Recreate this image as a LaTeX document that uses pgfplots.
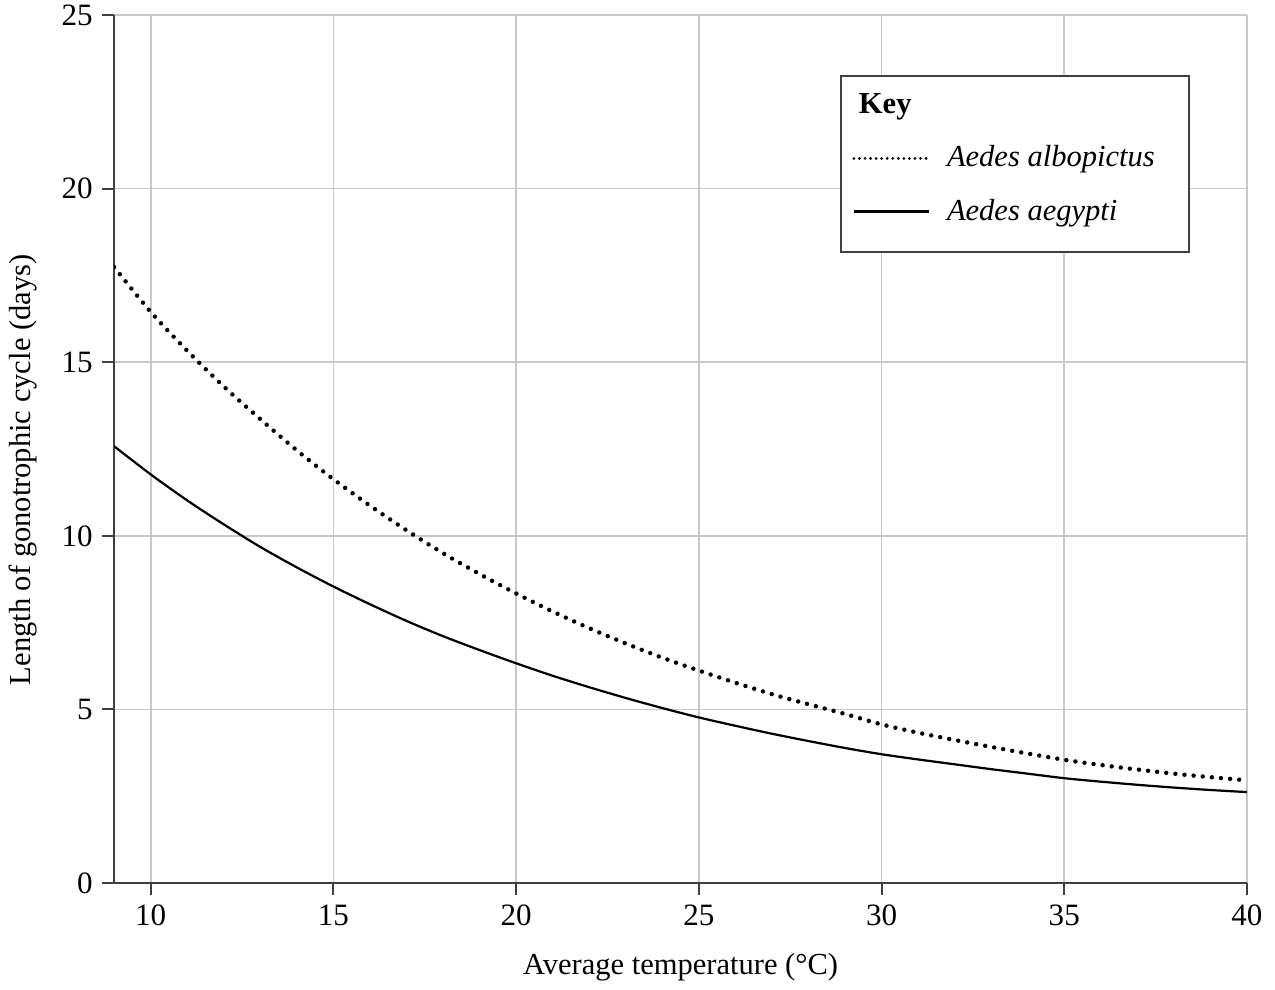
\documentclass[border=0pt]{standalone}
\usepackage{fontspec}
\setmainfont{Liberation Serif}
\usepackage{pgfplots}
\pgfplotsset{compat=1.18}
\definecolor{gridgray}{HTML}{C8C8C8}
\definecolor{axisgray}{HTML}{404040}
\pgfplotsset{deeplegend/.style={legend image code/.code={\draw[##1] (0pt,0pt) -- (27pt,0pt); \path[draw=none, fill=none] (0pt,-10pt) -- (0pt,0pt);}}}
\begin{document}
\begin{tikzpicture}
\begin{axis}[
  name=ax,
  scale only axis,
  width=408.2pt, height=312.8pt,
  xmin=9, xmax=40, ymin=0, ymax=25,
  xtick={10,15,20,25,30,35,40},
  ytick={0,5,10,15,20,25},
  axis lines=left,
  axis line style={-, draw=axisgray, line width=0.7pt},
  tick style={draw=axisgray, line width=0.7pt},
  tick align=outside,
  major tick length=4.2pt,
  grid=major,
  major grid style={draw=gridgray, line width=0.6pt},
  /pgf/number format/assume math mode=true,
  tick label style={font=\fontsize{11.2}{13}\selectfont},
  yticklabel style={inner ysep=0.5pt},
  label style={font=\fontsize{11}{13}\selectfont},
  xlabel={Average temperature (°C)},
  ylabel={Length of gonotrophic cycle (days)},
  xlabel style={yshift=-3pt},
  ylabel style={at={(axis description cs:-0.0802,0.476)}, anchor=center},
  legend cell align=left,
  legend style={at={(0.641,0.931)}, anchor=north west, draw=axisgray, line width=0.7pt,
    font=\fontsize{11}{13}\selectfont, row sep=6pt, inner xsep=4pt, inner ysep=4.5pt},
  legend image code/.code={\draw[#1] (0pt,0pt) -- (27pt,0pt);},
]
\addlegendimage{empty legend}
\addlegendentry{\hspace*{-33.5pt}\textbf{Key}}
\addplot[black, line width=1.6pt, line cap=round, dash pattern=on 0pt off 3.3pt, smooth,
  legend image post style={line width=1.1pt, dash pattern=on 0pt off 2pt}] coordinates {
(9,17.74) (10,16.45) (11,15.33) (12,14.30) (13,13.36) (14,12.46) (15,11.63) (16,10.87)
(17,10.16) (18,9.50) (19,8.90) (20,8.34) (21,7.82) (22,7.34) (23,6.90) (24,6.49)
(25,6.12) (26,5.77) (27,5.44) (28,5.15) (29,4.87) (30,4.57) (31,4.33) (32,4.12)
(33,3.92) (34,3.73) (35,3.55) (36,3.40) (37,3.27) (38,3.15) (39,3.05) (40,2.96)
};
\addlegendentry{\hspace*{4pt}\textit{Aedes albopictus}\hspace*{6.5pt}}
\addplot[black, line width=0.8pt, smooth, deeplegend] coordinates {
(9,12.58) (10,11.77) (11,11.02) (12,10.33) (13,9.68) (14,9.09) (15,8.54) (16,8.03)
(17,7.55) (18,7.11) (19,6.71) (20,6.33) (21,5.97) (22,5.64) (23,5.33) (24,5.04)
(25,4.77) (26,4.53) (27,4.30) (28,4.09) (29,3.89) (30,3.71) (31,3.56) (32,3.42)
(33,3.28) (34,3.15) (35,3.02) (36,2.92) (37,2.83) (38,2.75) (39,2.68) (40,2.62)
};
\addlegendentry{\hspace*{4pt}\textit{Aedes aegypti}}
\end{axis}
\path ([shift={(-40.7pt,-36.7pt)}]ax.south west) rectangle ([shift={(10.1pt,5.4pt)}]ax.north east);
\end{tikzpicture}
\end{document}
